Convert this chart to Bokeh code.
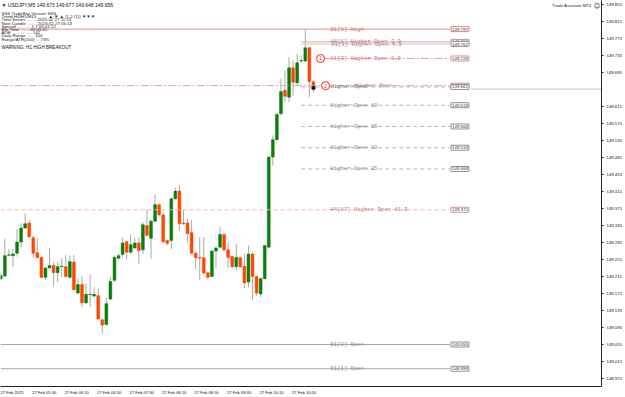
import numpy as np
from bokeh.plotting import figure
from bokeh.models import (Range1d, FixedTicker, CustomJSTickFormatter, PrintfTickFormatter,
                          Label, ColumnDataSource)
from bokeh.core.properties import value
from bokeh.embed import file_html
from bokeh.resources import INLINE

# ---------------- data (USDJPY, M5, 27 Feb 2025) ----------------
bar_open = [149.210, 149.216, 149.265, 149.264, 149.270, 149.296, 149.329, 149.341, 149.306, 149.271,
            149.260, 149.213, 149.235, 149.241, 149.224, 149.238, 149.238, 149.213, 149.249, 149.176,
            149.196, 149.153, 149.172, 149.169, 149.170, 149.113, 149.102, 149.162, 149.206, 149.258,
            149.267, 149.297, 149.272, 149.282, 149.294, 149.278, 149.335, 149.305, 149.345, 149.384,
            149.360, 149.300, 149.300, 149.398, 149.416, 149.341, 149.341, 149.318, 149.270, 149.260,
            149.259, 149.224, 149.215, 149.275, 149.284, 149.314, 149.278, 149.262, 149.238, 149.259,
            149.239, 149.202, 149.268, 149.215, 149.174, 149.210, 149.284, 149.496, 149.537, 149.598,
            149.653, 149.637, 149.706, 149.671, 149.722, 149.722, 149.753, 149.673]
bar_high = [149.224, 149.304, 149.280, 149.280, 149.327, 149.340, 149.363, 149.347, 149.310, 149.305,
            149.262, 149.238, 149.283, 149.248, 149.249, 149.258, 149.266, 149.264, 149.266, 149.210,
            149.216, 149.198, 149.219, 149.190, 149.186, 149.116, 149.166, 149.213, 149.264, 149.269,
            149.306, 149.300, 149.314, 149.306, 149.306, 149.343, 149.372, 149.349, 149.408, 149.387,
            149.366, 149.302, 149.401, 149.424, 149.429, 149.370, 149.351, 149.347, 149.274, 149.308,
            149.308, 149.227, 149.276, 149.286, 149.331, 149.316, 149.296, 149.264, 149.292, 149.262,
            149.269, 149.288, 149.271, 149.217, 149.213, 149.290, 149.497, 149.547, 149.601, 149.680,
            149.700, 149.731, 149.723, 149.739, 149.735, 149.797, 149.756, 149.677]
bar_low = [149.206, 149.215, 149.262, 149.237, 149.262, 149.284, 149.328, 149.307, 149.258, 149.257,
           149.211, 149.206, 149.234, 149.192, 149.202, 149.213, 149.213, 149.210, 149.182, 149.173,
           149.143, 149.151, 149.143, 149.166, 149.114, 149.081, 149.100, 149.158, 149.203, 149.255,
           149.260, 149.255, 149.269, 149.281, 149.245, 149.268, 149.309, 149.257, 149.344, 149.356,
           149.293, 149.288, 149.280, 149.396, 149.323, 149.337, 149.296, 149.269, 149.233, 149.206,
           149.220, 149.208, 149.213, 149.235, 149.281, 149.274, 149.235, 149.235, 149.229, 149.236,
           149.188, 149.190, 149.160, 149.170, 149.166, 149.208, 149.283, 149.476, 149.535, 149.594,
           149.625, 149.625, 149.641, 149.664, 149.718, 149.719, 149.637, 149.648]
bar_close = [149.217, 149.264, 149.266, 149.268, 149.296, 149.329, 149.339, 149.308, 149.270, 149.260,
             149.213, 149.235, 149.241, 149.224, 149.238, 149.239, 149.215, 149.250, 149.184, 149.196,
             149.153, 149.173, 149.173, 149.173, 149.115, 149.101, 149.151, 149.203, 149.260, 149.264,
             149.294, 149.272, 149.290, 149.294, 149.276, 149.337, 149.312, 149.345, 149.384, 149.360,
             149.297, 149.293, 149.398, 149.416, 149.339, 149.339, 149.316, 149.270, 149.259, 149.258,
             149.223, 149.213, 149.275, 149.282, 149.314, 149.278, 149.260, 149.238, 149.260, 149.238,
             149.200, 149.268, 149.215, 149.176, 149.210, 149.288, 149.496, 149.537, 149.596, 149.650,
             149.639, 149.706, 149.672, 149.718, 149.723, 149.753, 149.674, 149.656]

time_labels = ["27 Feb 2025", "27 Feb 05:30", "27 Feb 06:10", "27 Feb 06:50", "27 Feb 07:30",
               "27 Feb 08:10", "27 Feb 08:50", "27 Feb 09:30", "27 Feb 10:10", "27 Feb 10:50"]
time_label_bars = [0, 8, 16, 24, 32, 40, 48, 56, 64, 72]

price_ticks = [149.855, 149.815, 149.775, 149.735, 149.695, 149.615, 149.575, 149.535, 149.495,
               149.455, 149.415, 149.375, 149.335, 149.295, 149.255, 149.215, 149.175, 149.135,
               149.095, 149.055, 149.015, 148.975]

level_names = ["D1[0] High", "H4[1] Higher Open 3.9", "H1[1] Higher Open 4.9", "H1[3] Higher Open 6.9",
               "Higher Open", "Higher Open", "Higher Open 10", "Higher Open 15", "Higher Open 20",
               "Higher Open 25", "H4[87] Higher Open 41.9", "D1[0] Open", "D1[1] Open"]
level_prices = [149.797, 149.767, 149.762, 149.728, 149.664, 149.661, 149.618, 149.568, 149.518,
                149.468, 149.372, 149.055, 148.998]

bid_price = 149.656
marker_labels = ["1", "2"]
marker_prices = [149.728, 149.664]

header_text = "\u25bc USDJPY,M5  149.673 149.677 149.648 149.656"
info_lines = ["SSS TradeBox Version SSS",
              "Trend H4/H1/M15 ........ \u25b2 \u25bc \u25b2 (1.2 (1)) \u25bc\u25bc\u25bc",
              "Time Server ........ 2025.02.27 11:13",
              "Next Candle ........ 2025.02.27 05:13",
              "Spread ........... 1.7    00:01:22",
              "Bar Time ....... 00:03:41",
              "ADR ................ 142",
              "Daily Range ...... 104",
              "Range/ATR(100) ... 73%"]
warning_text = "WARNING: H1 HIGH BREAKOUT"
assistant_text = "Trade Assistant MT4"

# ---------------- styles ----------------
UP = "#0b7d0b"
DOWN = "#ff4500"
WICK = "#a9a9a9"
PINK = "#f0a0a0"
ROSE_TXT = "#c97373"
GRAY_LN = "#b4b4b4"
GRAY_TXT = "#8c8c8c"

n = len(bar_open)
X0, X1 = -0.074, 147.96
Y0, Y1 = 148.9562, 149.8644

p = figure(width=625, height=397, output_backend="svg", toolbar_location=None,
           x_range=Range1d(X0, X1), y_range=Range1d(Y0, Y1), y_axis_location="right",
           min_border_left=0, min_border_top=0, min_border_right=24, min_border_bottom=11)
p.grid.visible = False
p.outline_line_color = None
p.background_fill_color = "white"
p.border_fill_color = "white"

# axes
ya = p.yaxis[0]
ya.ticker = FixedTicker(ticks=price_ticks)
ya.formatter = PrintfTickFormatter(format="%.3f")
ya.major_label_text_font = "Liberation Sans"
ya.major_label_text_font_size = "4.3px"
ya.major_label_text_color = "#111111"
ya.major_tick_out = 2
ya.major_tick_in = 0
ya.minor_tick_out = 0
ya.minor_tick_in = 0
ya.major_label_standoff = 3
ya.axis_line_color = "#222222"
ya.major_tick_line_color = "#222222"

xa = p.xaxis[0]
label_shift = 2.7
xa.ticker = FixedTicker(ticks=[b + label_shift for b in time_label_bars])
xa.formatter = CustomJSTickFormatter(
    args=dict(bars=time_label_bars, labels=time_labels, off=label_shift),
    code="const i = bars.findIndex(b => Math.abs(b + off - tick) < 0.01); return i >= 0 ? labels[i] : '';")
xa.major_label_text_font = "Liberation Sans"
xa.major_label_text_font_size = "4.1px"
xa.major_label_text_color = "#111111"
xa.major_tick_line_color = None
xa.minor_tick_line_color = None
xa.major_tick_out = 0
xa.major_tick_in = 0
xa.minor_tick_out = 0
xa.minor_tick_in = 0
xa.major_label_standoff = 3
xa.axis_line_color = "#222222"

# candles
o = np.array(bar_open); h = np.array(bar_high); l = np.array(bar_low); c = np.array(bar_close)
idx = np.arange(n)
src = ColumnDataSource(dict(x=idx, high=h, low=l, top=np.maximum(o, c), bottom=np.minimum(o, c),
                            color=np.where(c >= o, UP, DOWN)))
p.segment(x0="x", y0="low", x1="x", y1="high", source=src, line_color=WICK, line_width=1)
p.vbar(x="x", width=0.7, top="top", bottom="bottom", fill_color="color", line_color="color",
       line_width=0.5, source=src)
# current bar marker (between level open and bid)
p.vbar(x=[n - 1], width=0.7, top=[level_prices[4]], bottom=[bid_price], fill_color="black",
       line_color="black")

# level lines
short_start = n - 4
box_left = 110.9
label_left = 81.2
full = [True, False, False, False, True, False, False, False, False, False, True, True, True]
lcol = ["#f28a8a", PINK, "#d8c4c4", PINK, PINK, GRAY_LN, GRAY_LN, GRAY_LN, GRAY_LN, GRAY_LN, "#f2b4b4",
        "#a8a8a8", "#a8a8a8"]
ldash = ["solid", "solid", "solid", "8 2 2 2", "8 2 2 2", "4 3", "4 3", "4 3", "4 3", "4 3", "4 3",
         "solid", "solid"]
tcol = [ROSE_TXT, "#b07a7a", "#9a8a8a", ROSE_TXT, "#c48a8a", "#777777", GRAY_TXT, GRAY_TXT, GRAY_TXT,
        GRAY_TXT, ROSE_TXT, GRAY_TXT, GRAY_TXT]
bcol = ["#e08080", "#c09090", "#a0a0a0", "#e09090", "#d09090", "#909090", "#909090", "#909090",
        "#909090", "#909090", "#e09090", "#909090", "#909090"]
lshift = [0, 0, 0.25, 0, 6.2, 0, 0, 0, 0, 0, 0, 0, 0]
starts = [X0 if f else short_start for f in full]
starts[3] = n + 1.3

# bid line (right part)
p.line(x=[box_left + 5, X1], y=[bid_price, bid_price], line_color="#c4c4c4", line_width=1)

for i, (name, price) in enumerate(zip(level_names, level_prices)):
    p.line(x=[starts[i], box_left - 0.2], y=[price, price], line_color=lcol[i],
           line_dash=ldash[i], line_width=1)
    p.text(x=[label_left + lshift[i]], y=[price], text=[name], text_font=value("Liberation Mono"),
           text_font_size="5.6px", text_baseline="middle", text_align="left", text_color=tcol[i])
    p.text(x=[box_left], y=[price], text=[f"{price:.3f}"], text_font=value("Liberation Sans"),
           text_font_size="4.4px", text_baseline="middle", text_align="left", text_color="#333333",
           background_fill_color="white", border_line_color=bcol[i], padding=1)

# numbered markers
mx = [n + 0.76, n + 2.0]
p.scatter(x=mx, y=marker_prices, marker="circle", size=8, fill_color="white", line_color="#ff2020",
          line_width=1)
p.text(x=mx, y=marker_prices, text=marker_labels, text_font=value("Liberation Sans"),
       text_font_size="4.5px", text_align="center", text_baseline="middle", text_color="#ff2020")

# overlay texts (screen units measured from frame bottom)
FH = 386
p.add_layout(Label(x=1, y=FH - 4.5, x_units="screen", y_units="screen", text=header_text,
                   text_font="Liberation Sans", text_font_size="5px", text_baseline="middle",
                   text_color="#111111"))
for k, line in enumerate(info_lines):
    p.add_layout(Label(x=1, y=FH - (13 + 3.2 * k), x_units="screen", y_units="screen", text=line,
                       text_font="Liberation Sans", text_font_size="4.4px", text_baseline="middle",
                       text_color="#222222"))
p.add_layout(Label(x=1, y=FH - 47, x_units="screen", y_units="screen", text=warning_text,
                   text_font="Liberation Sans", text_font_size="4.6px", text_baseline="middle",
                   text_color="#111111"))
p.add_layout(Label(x=591, y=FH - 5, x_units="screen", y_units="screen", text=assistant_text,
                   text_font="Liberation Sans", text_font_size="4.3px", text_baseline="middle",
                   text_align="right", text_color="#222222"))
p.add_layout(Label(x=596.5, y=FH - 5, x_units="screen", y_units="screen", text="\u263a",
                   text_font="DejaVu Sans", text_font_size="6.5px", text_baseline="middle",
                   text_align="center", text_color="#333333"))

# current price box on the axis and the trade marker
p.add_layout(Label(x=603, y=bid_price, x_units="screen", y_units="data", text=f"{bid_price:.3f}",
                   text_font="Liberation Sans", text_font_size="4.3px", text_baseline="middle",
                   text_color="white", background_fill_color="black", padding=1))
p.add_layout(Label(x=601.5, y=149.708, x_units="screen", y_units="data", text=" ",
                   text_font="Liberation Sans", text_font_size="11px", text_baseline="middle",
                   background_fill_color="#2e9fb5", padding=0))

open("out.html", "w").write(file_html(p, INLINE))
